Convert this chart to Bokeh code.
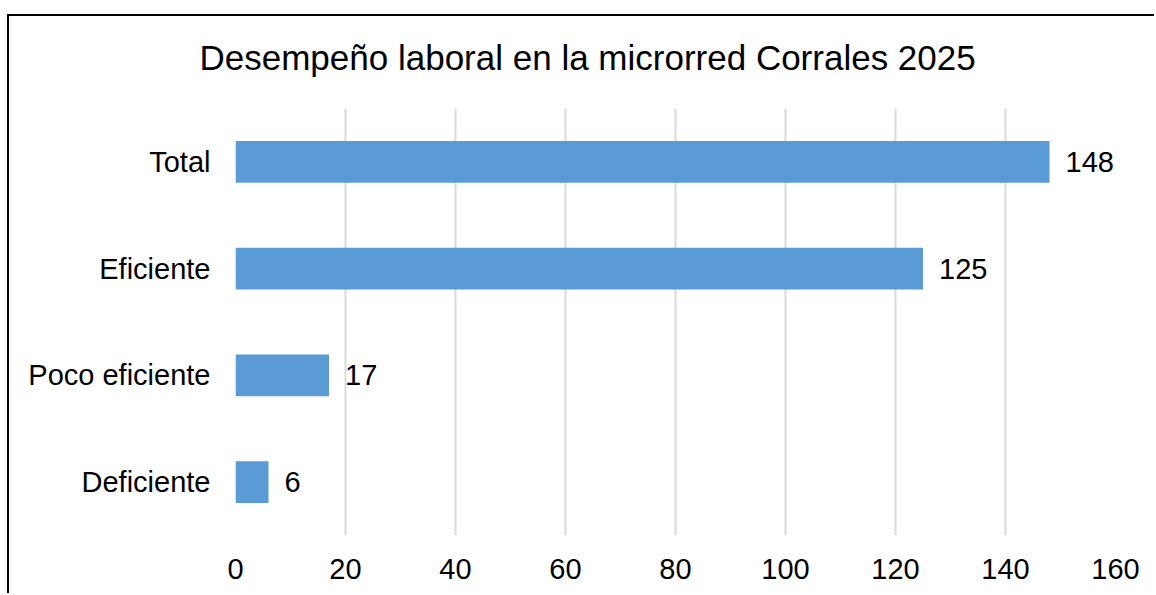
from bokeh.plotting import figure
from bokeh.models import ColumnDataSource, Title, FixedTicker, FactorRange, Range1d
from bokeh.core.properties import value
from bokeh.embed import file_html
from bokeh.resources import INLINE

categories = ["Deficiente", "Poco eficiente", "Eficiente", "Total"]
counts = [6, 17, 125, 148]
x_ticks = [0, 20, 40, 60, 80, 100, 120, 140, 160]
title_text = "Desempeño laboral en la microrred Corrales 2025"

FONT = "Liberation Sans"
W, H = 1147, 579
ML, MR, MT, MB = 226, 41, 92, 60

src = ColumnDataSource(dict(cat=categories, val=counts, lbl=[str(v) for v in counts]))

p = figure(width=W, height=H, y_range=FactorRange(factors=categories, range_padding=0),
           x_range=Range1d(0, 160), output_backend="svg", toolbar_location=None,
           min_border_left=ML, min_border_right=MR, min_border_top=MT, min_border_bottom=MB)
p.styles = {"border-top": "2px solid black", "border-left": "2px solid black"}
p.margin = (14, 0, 0, 7)

# spacer panel between the title and the plot area
p.add_layout(Title(text=" ", text_font_size="4px", standoff=5), "above")
p.title = Title(text=title_text, align="left", offset=-36, standoff=39, text_font=FONT,
                text_font_size="35px", text_font_style="normal", text_color="#000000")

p.hbar(y="cat", right="val", left=0, height=0.39, source=src, color="#5B9BD5", line_color=None)
p.text(x="val", y="cat", text="lbl", source=src, x_offset=16, text_align="left",
       text_baseline="middle", text_font=value(FONT), text_font_size="29px", text_color="#000000")

p.xgrid.grid_line_color = "#D9D9D9"
p.xgrid.grid_line_width = 2
p.ygrid.grid_line_color = None
p.outline_line_color = None
p.xaxis.ticker = FixedTicker(ticks=x_ticks)

for ax in (p.xaxis[0], p.yaxis[0]):
    ax.axis_line_color = None
    ax.major_tick_line_color = None
    ax.minor_tick_line_color = None
    ax.major_tick_in = 0
    ax.major_tick_out = 0
    ax.major_label_text_font = FONT
    ax.major_label_text_font_size = "29px"
    ax.major_label_text_color = "#000000"
p.xaxis.major_label_standoff = 23
p.yaxis.major_label_standoff = 25

open("out.html", "w").write(file_html(p, INLINE))
